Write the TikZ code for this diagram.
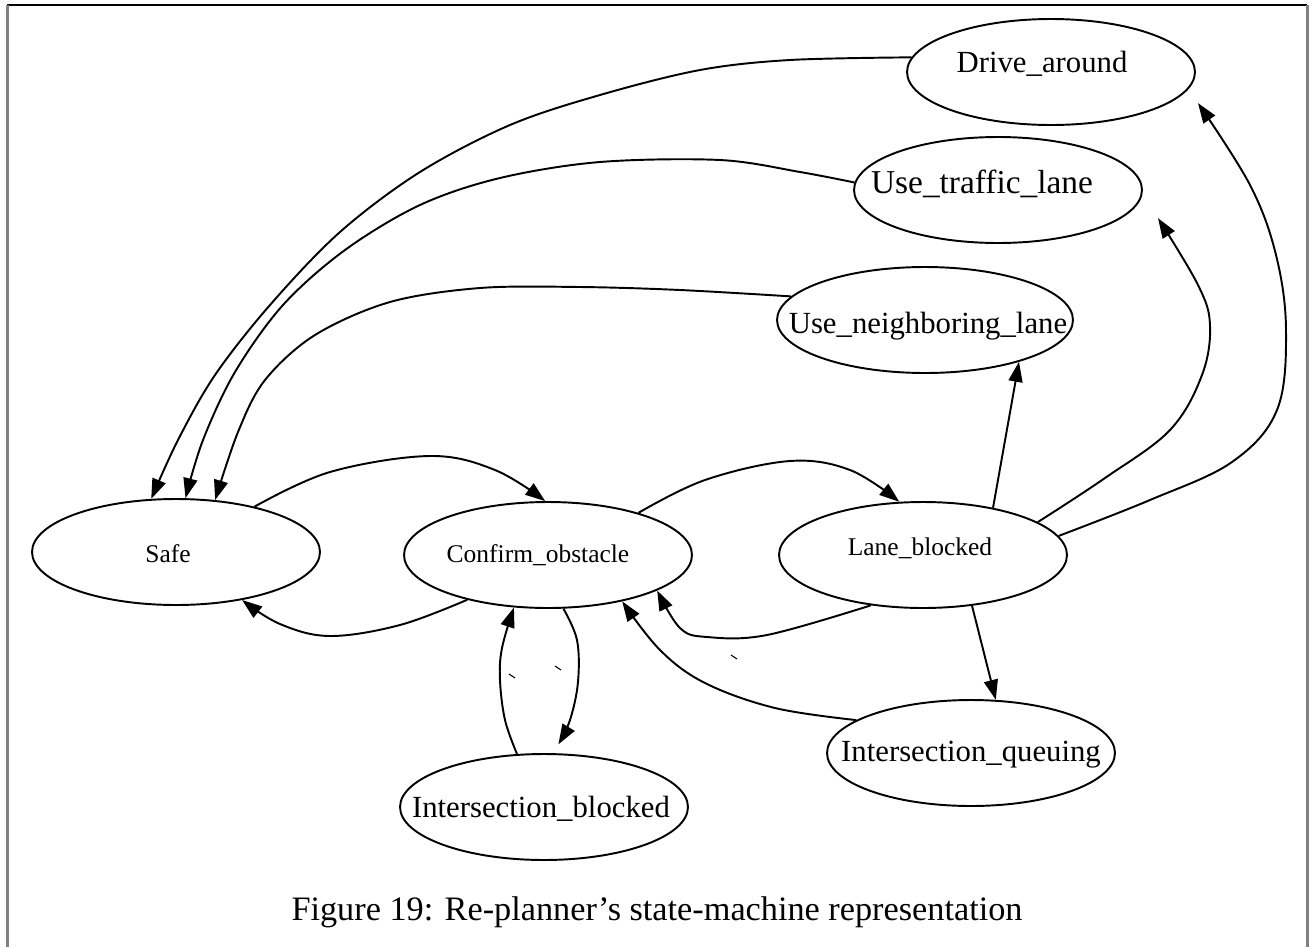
\documentclass[tikz,border=0pt]{standalone}
\usepackage{fontspec}
\setmainfont{Liberation Serif}
\usetikzlibrary{shapes.geometric,arrows.meta,calc}
\begin{document}
\begin{tikzpicture}[x=0.02cm,y=-0.02cm,
  state/.style={draw, ellipse, line width=1.1pt, inner sep=0pt,
    minimum width=5.76cm, minimum height=2.12cm},
  smalltxt/.style={font=\fontsize{14.5}{16}\selectfont, anchor=base, inner sep=0pt},
  bigtxt/.style={font=\fontsize{17.5}{20}\selectfont, anchor=base, inner sep=0pt},
  trans/.style={line width=1.1pt, -{Triangle[length=0.4cm,width=0.28cm]}},
  tick/.style={line width=0.6pt}
]
\useasboundingbox (0,0) rectangle (1312,947);

% page frame
\draw[black, line width=1pt] (7,5) -- (1307,5);
\draw[gray, line width=1.7pt] (7.5,5) -- (7.5,947);
\draw[gray, line width=1.7pt] (1307.5,5) -- (1307.5,947);

% states
\node[state] (S) at (176,552) {};
\node[state] (C) at (548,555) {};
\node[state] (L) at (923,555) {};
\node[state] (D) at (1051,72) {};
\node[state] (T) at (998,190) {};
\node[state, minimum width=5.92cm] (N) at (925,320) {};
\node[state] (Q) at (971,753) {};
\node[state] (B) at (544,807) {};

% state names
\node[smalltxt] (St) at (168,562) {Safe};
\node[smalltxt] (Ct) at (538,562) {Confirm\_obstacle};
\node[smalltxt] (Lt) at (920,555) {Lane\_blocked};
\node[bigtxt] (Dt) at (1042,72) {Drive\_around};
\node[bigtxt, font=\fontsize{19}{21}\selectfont] (Tt) at (982,193) {Use\_traffic\_lane};
\node[bigtxt] (Nt) at (928,333) {Use\_neighboring\_lane};
\node[bigtxt] (Qt) at (971,761) {Intersection\_queuing};
\node[bigtxt] (Bt) at (541,817) {Intersection\_blocked};

% transitions back to Safe
\draw[trans] plot[smooth, tension=0.55] coordinates {(D.174) (790,60) (700,70) (600,95) (510,125) (420,172) (340,232) (270,305) (215,375) (178,440) (S.115)};
\draw[trans] plot[smooth, tension=0.55] coordinates {(T.177) (800,172) (720,160) (600,162) (500,178) (420,205) (345,250) (283,305) (235,372) (203,440) (S.80)};
\draw[trans] plot[smooth, tension=0.55] coordinates {(N.170) (680,290) (580,287) (480,288) (390,302) (315,335) (265,380) (238,432) (S.53)};

% main chain
\draw[trans] plot[smooth, tension=0.6] coordinates {(S.30) (330,472) (430,456) (495,470) (C.93)};
\draw[trans] plot[smooth, tension=0.6] coordinates {(C.209) (400,625) (330,636) (280,624) (S.324)};
\draw[trans] plot[smooth, tension=0.6] coordinates {(C.25) (705,480) (790,461) (850,470) (L.114)};
\draw[trans] plot[smooth, tension=0.6] coordinates {(L.224) (767,635) (707,637) (680,628) (C.342)};
\draw[trans] plot[smooth, tension=0.6] coordinates {(Q.164) (775,708) (705,683) (660,650) (C.328)};
\draw[trans] (L.314) -- (Q.65);
\draw[trans] (L.34) -- (N.336);

% transitions up the right side
\draw[trans] plot[smooth, tension=0.6] coordinates {(L.16) (1105,478) (1170,430) (1202,375) (1210,325) (1198,285) ($(T.-10)+(29,5)$)};
\draw[trans] plot[smooth, tension=0.6] coordinates {(L.8) (1150,500) (1232,462) (1277,410) (1286,330) (1276,255) (1250,185) ($(D.-10)+(16,8)$)};

% loop with Intersection_blocked
\draw[trans] plot[smooth, tension=0.6] coordinates {(C.286) (577,640) (578,682) (570,720) ($(B.75)+(0,-9)$)};
\draw[trans] plot[smooth, tension=0.6] coordinates {(B.117) (505,720) (500,680) (502,648) (C.237)};

% empty edge labels
\draw[tick] (509,674) -- (515,678);
\draw[tick] (555,666) -- (561,670);
\draw[tick] (731,655) -- (737,659);

% caption
\node[font=\fontsize{19.5}{22}\selectfont] (cap) at (657,912) {Figure 19: Re-planner’s state-machine representation};
\end{tikzpicture}
\end{document}
